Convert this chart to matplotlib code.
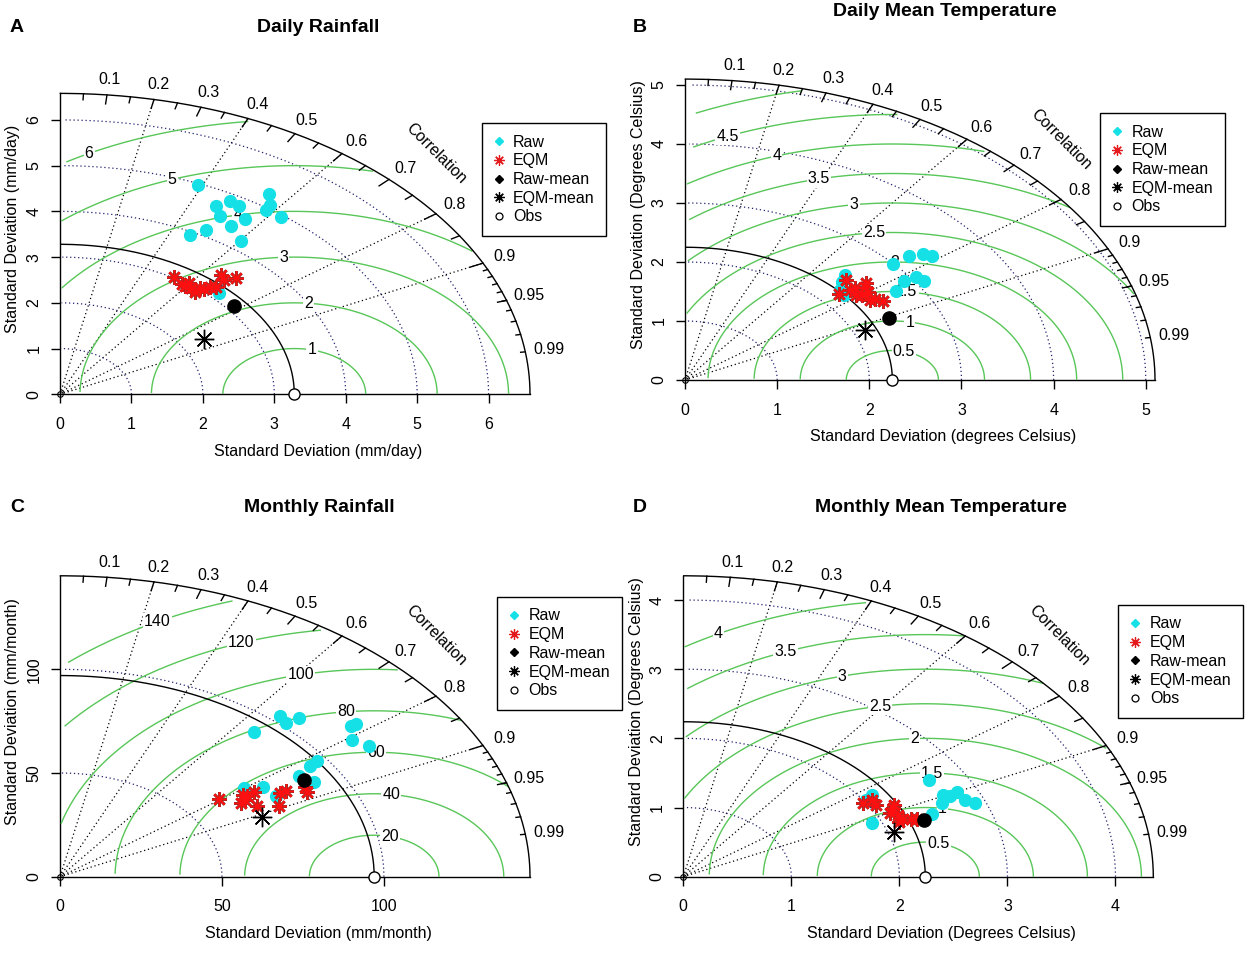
import numpy as np
import matplotlib
matplotlib.use('Agg')
import matplotlib.pyplot as plt
from matplotlib.lines import Line2D

plt.rcParams['font.family'] = ['Liberation Sans', 'DejaVu Sans']

# ---------------- data (standard deviation, correlation) ----------------
# A - Daily Rainfall (mm/day)
a_obs_sd = 3.28
a_raw_sd = [4.97, 5.27, 4.86, 4.66, 4.82, 5.08, 4.95, 4.50, 4.63, 4.97, 4.39, 4.14, 3.94, 4.21, 3.14]
a_raw_cor = [0.390, 0.556, 0.490, 0.468, 0.519, 0.580, 0.582, 0.498, 0.559, 0.623, 0.545, 0.493, 0.462, 0.603, 0.707]
a_eqm_sd = [3.01, 3.03, 2.96, 2.95, 3.04, 3.14, 3.21, 3.45, 3.54, 2.93, 2.96, 3.06, 3.40]
a_eqm_cor = [0.528, 0.597, 0.621, 0.594, 0.645, 0.668, 0.682, 0.655, 0.695, 0.645, 0.575, 0.660, 0.677]
a_rawmean_sd, a_rawmean_cor = 3.10, 0.784
a_eqmmean_sd, a_eqmmean_cor = 2.36, 0.856
a_ticks = [0, 1, 2, 3, 4, 5, 6]
a_gamma = [1, 2, 3, 4, 5, 6]

# B - Daily Mean Temperature (degrees Celsius)
b_obs_sd = 2.25
b_raw_sd = [3.00, 3.21, 3.35, 3.40, 2.91, 3.06, 3.09, 2.74, 2.38, 2.49, 2.27, 2.24]
b_raw_cor = [0.753, 0.757, 0.770, 0.787, 0.818, 0.820, 0.841, 0.835, 0.714, 0.699, 0.740, 0.768]
b_eqm_sd = [2.43, 2.22, 2.41, 2.51, 2.49, 2.40, 2.48, 2.53, 2.43, 2.35, 2.35, 2.56]
b_eqm_cor = [0.719, 0.751, 0.764, 0.777, 0.799, 0.800, 0.831, 0.850, 0.828, 0.791, 0.760, 0.769]
b_rawmean_sd, b_rawmean_cor = 2.45, 0.903
b_eqmmean_sd, b_eqmmean_cor = 2.13, 0.917
b_ticks = [0, 1, 2, 3, 4, 5]
b_gamma = [0.5, 1, 1.5, 2, 2.5, 3, 3.5, 4, 4.5, 5]

# C - Monthly Rainfall (mm/month)
c_obs_sd = 97.0
c_raw_sd = [103.1, 101.9, 106.3, 91.8, 115.6, 117.3, 111.8, 114.3, 96.9, 93.8, 88.2, 90.6, 76.1, 77.4, 71.0]
c_raw_cor = [0.658, 0.686, 0.693, 0.651, 0.778, 0.780, 0.807, 0.835, 0.819, 0.824, 0.836, 0.865, 0.824, 0.863, 0.799]
c_eqm_sd = [61.6, 68.9, 68.0, 72.3, 66.2, 69.6, 75.7, 79.0, 81.3, 87.0, 86.3, 69.5]
c_eqm_cor = [0.795, 0.820, 0.841, 0.827, 0.844, 0.873, 0.892, 0.861, 0.860, 0.868, 0.882, 0.830]
c_rawmean_sd, c_rawmean_cor = 88.5, 0.851
c_eqmmean_sd, c_eqmmean_cor = 68.8, 0.907
c_ticks = [0, 50, 100]
c_gamma = [20, 40, 60, 80, 100, 120, 140]

# D - Monthly Mean Temperature (Degrees Celsius)
d_obs_sd = 2.24
d_raw_sd = [2.67, 2.68, 2.81, 2.83, 2.90, 2.62, 2.73, 2.48, 1.91, 2.02, 2.11]
d_raw_cor = [0.851, 0.898, 0.900, 0.920, 0.930, 0.913, 0.905, 0.930, 0.912, 0.836, 0.829]
d_eqm_sd = [1.97, 2.07, 2.06, 2.18, 2.12, 2.18, 2.20, 2.27, 2.32, 2.15, 2.21]
d_eqm_cor = [0.843, 0.845, 0.866, 0.891, 0.902, 0.913, 0.924, 0.930, 0.932, 0.930, 0.884]
d_rawmean_sd, d_rawmean_cor = 2.37, 0.939
d_eqmmean_sd, d_eqmmean_cor = 2.05, 0.950
d_ticks = [0, 1, 2, 3, 4]
d_gamma = [0.5, 1, 1.5, 2, 2.5, 3, 3.5, 4]

cor_labels = [0.1, 0.2, 0.3, 0.4, 0.5, 0.6, 0.7, 0.8, 0.9, 0.95, 0.99]
cor_lines = [0.2, 0.4, 0.6, 0.8, 0.9]
legend_labels = ['Raw', 'EQM', 'Raw-mean', 'EQM-mean', 'Obs']

# ---------------- style ----------------
W, H = 1248, 959
FS = 11.5
GREEN = '#58c658'
CYAN = '#14e0e6'
RED = '#e41a1c'
ARC = '#22226e'
DOT = (1, 2.2)
REG_W, REG_H = 517, 331

fig = plt.figure(figsize=(W / 100, H / 100), dpi=100)


def fx(px):
    return px / W


def fy(py):
    return 1 - py / H


def xy(sd, cor):
    sd = np.asarray(sd, float)
    cor = np.asarray(cor, float)
    return sd * cor, sd * np.sqrt(1 - cor ** 2)


def fmt(v):
    return '%g' % v


def taylor(p):
    ox, oy, maxsd = p['ox'], p['oy'], p['maxsd']
    sdr = p['obs']
    ax = fig.add_axes([fx(ox), fy(oy), REG_W / W, REG_H / H])
    lim = 1.1 * maxsd
    ax.set_xlim(0, lim)
    ax.set_ylim(0, lim)
    for s in ax.spines.values():
        s.set_visible(False)
    ax.set_facecolor('none')
    ticks = p['ticks']
    ax.set_xticks(ticks)
    ax.set_yticks(ticks)
    ax.set_xticklabels([fmt(t) for t in ticks])
    ax.set_yticklabels([fmt(t) for t in ticks], rotation=90, va='center')
    ax.tick_params(direction='out', length=6.8, width=1.0, labelsize=FS,
                   top=False, right=False, colors='black')
    ax.tick_params(axis='x', pad=9.5)
    ax.tick_params(axis='y', pad=6.5)

    z = 2
    # correlation lines
    for c in cor_lines:
        ax.plot([0, maxsd * c], [0, maxsd * np.sqrt(1 - c * c)], color='black',
                lw=0.9, dashes=DOT, zorder=z)
    # axes segments
    ax.plot([0, 0], [0, maxsd], color='black', lw=1.0, zorder=z, clip_on=False)
    ax.plot([0, maxsd], [0, 0], color='black', lw=1.0, zorder=z, clip_on=False)
    # sd arcs
    t = np.arange(0, np.pi / 2, 0.03)
    for r in ticks[1:]:
        ax.plot(np.cos(t) * r, np.sin(t) * r, color=ARC, lw=0.9, dashes=DOT, zorder=z)
    # gamma (centred RMS) contours
    tg = np.arange(0, np.pi, 0.03)
    gam = p['gamma']
    labelpos = np.linspace(45, 70, len(gam))
    for gi, g in enumerate(gam):
        z += 0.01
        xc = np.cos(tg) * g + sdr
        yc = np.sin(tg) * g
        neg = np.where(xc < 0)[0]
        end = neg[0] - 1 if len(neg) else len(tg) - 1
        out = np.where(xc * xc + yc * yc > maxsd * maxsd)[0]
        start = out.max() + 1 if len(out) else 0
        ax.plot(xc[start:end + 1], yc[start:end + 1], color=GREEN, lw=1.0, zorder=z)
        k = int(labelpos[gi]) - 1
        if xc[k] > 0:
            ax.text(xc[k], yc[k], fmt(g), ha='center', va='center', fontsize=FS,
                    zorder=z + 0.005,
                    bbox=dict(facecolor='white', edgecolor='none', pad=0.8))
    z = 3
    # outer arc
    to = np.arange(0, np.pi / 2, 0.01)
    ax.plot(np.cos(to) * maxsd, np.sin(to) * maxsd, color='black', lw=1.0, zorder=z, clip_on=False)
    big = np.arccos(np.arange(0.1, 0.91, 0.1))
    med = np.arccos(np.arange(0.05, 0.96, 0.1))
    sml = np.arccos(np.arange(0.91, 0.995, 0.01))
    for angs, f in ((big, 0.97), (med, 0.98), (sml, 0.99)):
        for a in angs:
            ax.plot([np.cos(a) * maxsd, np.cos(a) * f * maxsd],
                    [np.sin(a) * maxsd, np.sin(a) * f * maxsd], color='black', lw=1.0, zorder=z)
    # reference arc
    ax.plot(np.cos(to) * sdr, np.sin(to) * sdr, color='black', lw=1.0, zorder=z)
    ax.plot([sdr], [0], ls='none', marker='o', mfc='white', mec='black', ms=8, mew=1.0,
            zorder=z + 1, clip_on=False)
    ax.plot([0], [0], ls='none', marker='o', mfc='none', mec='black', ms=4, mew=0.8,
            zorder=z + 1, clip_on=False)
    # correlation labels
    ca = np.arccos(cor_labels)
    for c, a in zip(cor_labels, ca):
        ax.text(np.cos(a) * 1.05 * maxsd, np.sin(a) * 1.05 * maxsd, fmt(c),
                ha='center', va='center', fontsize=FS, zorder=z)
    ax.text(0.8 * maxsd, 0.8 * maxsd, 'Correlation', rotation=-45, ha='center',
            va='center', fontsize=FS, rotation_mode='anchor', zorder=z)

    # model points
    rx, ry = xy(p['raw_sd'], p['raw_cor'])
    ax.plot(rx, ry, ls='none', marker='o', color=CYAN, ms=8.5, zorder=5, clip_on=False)
    ex, ey = xy(p['eqm_sd'], p['eqm_cor'])
    ax.plot(ex, ey, ls='none', marker=(8, 2, 0), ms=10.5, mec='#9c2f28', mew=1.9, zorder=6)
    ax.plot(ex, ey, ls='none', marker=(8, 2, 0), ms=10.5, mec='#ff1010', mew=0.9, zorder=6.1)
    mx, my = xy([p['rawmean'][0]], [p['rawmean'][1]])
    ax.plot(mx, my, ls='none', marker='o', color='black', ms=9.5, zorder=7)
    qx, qy = xy([p['eqmmean'][0]], [p['eqmmean'][1]])
    ax.plot(qx, qy, ls='none', marker=(8, 2, 0), ms=14, mec='black', mew=1.0, zorder=7)

    # texts
    cx = ox + REG_W / 2
    fig.text(fx(p['title_xy'][0]), fy(p['title_xy'][1]), p['title'], ha='center', va='center',
             fontsize=14, fontweight='bold')
    fig.text(fx(p['letter_xy'][0]), fy(p['letter_xy'][1]), p['letter'], ha='center', va='center',
             fontsize=14, fontweight='bold')
    fig.text(fx(cx), fy(oy + 57), p['xlabel'], ha='center', va='center', fontsize=FS)
    fig.text(fx(ox - 47), fy(oy - REG_H / 2), p['ylabel'], ha='center', va='center',
             fontsize=FS, rotation=90)

    # legend
    handles = [
        Line2D([], [], ls='none', marker='D', color=CYAN, ms=4.2),
        Line2D([], [], ls='none', marker=(8, 2, 0), mec=RED, ms=7.5, mew=0.9),
        Line2D([], [], ls='none', marker='D', color='black', ms=4.2),
        Line2D([], [], ls='none', marker=(8, 2, 0), mec='black', ms=7.5, mew=0.9),
        Line2D([], [], ls='none', marker='o', mfc='none', mec='black', ms=5, mew=0.9),
    ]
    leg = fig.legend(handles, legend_labels, loc='upper left',
                     bbox_to_anchor=(fx(p['leg_xy'][0]), fy(p['leg_xy'][1])),
                     bbox_transform=fig.transFigure, frameon=True, fancybox=False,
                     edgecolor='black', framealpha=1, borderpad=0.72, labelspacing=0.23,
                     handlelength=0.7, handletextpad=0.55, borderaxespad=0, fontsize=FS)
    leg.get_frame().set_linewidth(1.0)


panels = [
    dict(ox=60, oy=394.3, maxsd=6.58, obs=a_obs_sd, ticks=a_ticks, gamma=a_gamma,
         raw_sd=a_raw_sd, raw_cor=a_raw_cor, eqm_sd=a_eqm_sd, eqm_cor=a_eqm_cor,
         rawmean=(a_rawmean_sd, a_rawmean_cor), eqmmean=(a_eqmmean_sd, a_eqmmean_cor),
         title='Daily Rainfall', title_xy=(318, 27), letter='A', letter_xy=(17, 28),
         xlabel='Standard Deviation (mm/day)', ylabel='Standard Deviation (mm/day)',
         leg_xy=(481.7, 123.3)),
    dict(ox=685, oy=380, maxsd=5.1, obs=b_obs_sd, ticks=b_ticks, gamma=b_gamma,
         raw_sd=b_raw_sd, raw_cor=b_raw_cor, eqm_sd=b_eqm_sd, eqm_cor=b_eqm_cor,
         rawmean=(b_rawmean_sd, b_rawmean_cor), eqmmean=(b_eqmmean_sd, b_eqmmean_cor),
         title='Daily Mean Temperature', title_xy=(945, 12), letter='B', letter_xy=(640, 28),
         xlabel='Standard Deviation (degrees Celsius)',
         ylabel='Standard Deviation (Degrees Celsius)', leg_xy=(1100, 113.3)),
    dict(ox=60, oy=876.7, maxsd=145.1, obs=c_obs_sd, ticks=c_ticks, gamma=c_gamma,
         raw_sd=c_raw_sd, raw_cor=c_raw_cor, eqm_sd=c_eqm_sd, eqm_cor=c_eqm_cor,
         rawmean=(c_rawmean_sd, c_rawmean_cor), eqmmean=(c_eqmmean_sd, c_eqmmean_cor),
         title='Monthly Rainfall', title_xy=(319, 508), letter='C', letter_xy=(17, 508),
         xlabel='Standard Deviation (mm/month)', ylabel='Standard Deviation (mm/month)',
         leg_xy=(497, 597)),
    dict(ox=683.3, oy=876.7, maxsd=4.35, obs=d_obs_sd, ticks=d_ticks, gamma=d_gamma,
         raw_sd=d_raw_sd, raw_cor=d_raw_cor, eqm_sd=d_eqm_sd, eqm_cor=d_eqm_cor,
         rawmean=(d_rawmean_sd, d_rawmean_cor), eqmmean=(d_eqmmean_sd, d_eqmmean_cor),
         title='Monthly Mean Temperature', title_xy=(941, 508), letter='D', letter_xy=(640, 508),
         xlabel='Standard Deviation (Degrees Celsius)',
         ylabel='Standard Deviation (Degrees Celsius)', leg_xy=(1118.3, 605)),
]

for p in panels:
    taylor(p)

fig.savefig('out.png', dpi=100, facecolor='white')
